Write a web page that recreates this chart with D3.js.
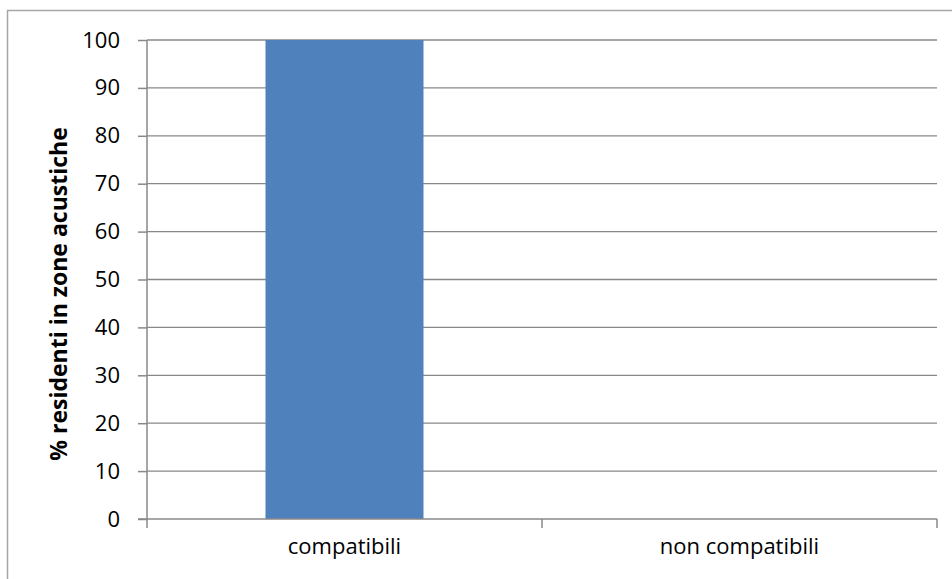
<!DOCTYPE html>
<html>
<head>
<meta charset="utf-8">
<script src="https://cdn.jsdelivr.net/npm/d3@7"></script>
<style>
  body { margin: 0; background: #fff; }
  text { font-family: "Open Sans", sans-serif; fill: #000; }
</style>
</head>
<body>
<div id="chart"></div>
<script>
var svgWidth = 952;
var svgHeight = 579;

// data
var categories = ["compatibili", "non compatibili"];
var values = [100, 0];
var yTicks = [0, 10, 20, 30, 40, 50, 60, 70, 80, 90, 100];
var yTitle = "% residenti in zone acustiche";

var svg = d3.select("#chart")
  .append("svg")
  .attr("width", svgWidth)
  .attr("height", svgHeight);

// outer border of the chart (right/bottom run off the picture)
svg.append("rect")
  .attr("x", 7.5)
  .attr("y", 10.5)
  .attr("width", 1000)
  .attr("height", 1000)
  .attr("fill", "none")
  .attr("stroke", "#a6a6a6")
  .attr("stroke-width", 1.5);

var xScale = d3.scaleBand()
  .domain(categories)
  .range([147, 937])
  .paddingInner(0.6)
  .paddingOuter(0.3);

var yScale = d3.scaleLinear()
  .domain([0, 100])
  .range([519, 40]);

// gridlines
svg.append("g")
  .selectAll("line")
  .data(yTicks.filter(d => d > 0))
  .enter()
  .append("line")
  .attr("x1", 147)
  .attr("x2", 937)
  .attr("y1", d => yScale(d))
  .attr("y2", d => yScale(d))
  .attr("stroke", "#888")
  .attr("stroke-width", 1.3);

// bars
svg.append("g")
  .selectAll("rect")
  .data(values)
  .enter()
  .append("rect")
  .attr("x", (d, i) => xScale(categories[i]))
  .attr("width", xScale.bandwidth())
  .attr("y", d => yScale(d))
  .attr("height", d => yScale(0) - yScale(d))
  .attr("fill", "#4f81bd");

// y axis
var yAxis = d3.axisLeft(yScale)
  .tickValues(yTicks)
  .tickSize(9)
  .tickPadding(18);

var yG = svg.append("g")
  .attr("transform", "translate(147,0)")
  .call(yAxis);
yG.selectAll("path, line").attr("stroke", "#888").attr("stroke-width", 1.5);
yG.select(".domain").attr("d", "M0,40V519");
yG.selectAll("text").style("font-size", "22px").attr("fill", "#000").attr("font-family", null);

// x axis: ticks at category boundaries
var xEdge = d3.scaleLinear().domain([0, categories.length]).range([147, 937]);
svg.append("line")
  .attr("x1", 138).attr("x2", 937)
  .attr("y1", 519).attr("y2", 519)
  .attr("stroke", "#888").attr("stroke-width", 1.5);
svg.append("g")
  .selectAll("line")
  .data(d3.range(categories.length + 1))
  .enter()
  .append("line")
  .attr("x1", d => xEdge(d))
  .attr("x2", d => xEdge(d))
  .attr("y1", 519)
  .attr("y2", 528)
  .attr("stroke", "#888")
  .attr("stroke-width", 1.5);

svg.append("g")
  .selectAll("text")
  .data(categories)
  .enter()
  .append("text")
  .attr("x", d => xScale(d) + xScale.bandwidth() / 2)
  .attr("y", 554)
  .attr("text-anchor", "middle")
  .style("font-size", "22px")
  .text(d => d);

// y axis title
svg.append("text")
  .attr("transform", "translate(67,294) rotate(-90)")
  .attr("text-anchor", "middle")
  .style("font-size", "23px")
  .style("font-weight", "bold")
  .text(yTitle);
</script>
</body>
</html>
